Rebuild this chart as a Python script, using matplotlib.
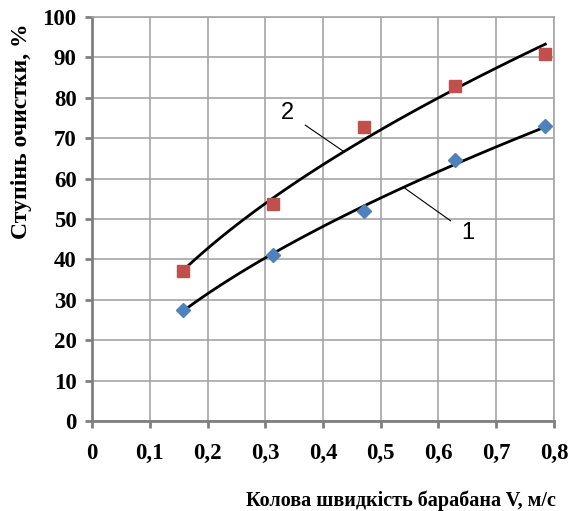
import numpy as np
import matplotlib.pyplot as plt

# швидкість барабана, м/с
v = [0.157, 0.314, 0.471, 0.628, 0.785]
# ступінь очистки, %
s1 = [27.4, 41.2, 52.0, 64.6, 73.1]
s2 = [37.2, 53.7, 72.8, 83.0, 90.8]

xticks = [0, 0.1, 0.2, 0.3, 0.4, 0.5, 0.6, 0.7, 0.8]
xlabels = ['0', '0,1', '0,2', '0,3', '0,4', '0,5', '0,6', '0,7', '0,8']
yticks = list(range(0, 101, 10))

fig = plt.figure(figsize=(5.69, 5.11), dpi=100)
ax = fig.add_axes([0.1617, 0.1761, 0.8119, 0.7906])

# степеневі лінії тренду
xs = np.linspace(v[0], v[-1], 100)
for s in (s1, s2):
    b, la = np.polyfit(np.log(v), np.log(s), 1)
    ax.plot(xs, np.exp(la) * xs ** b, color='black', lw=2, zorder=3)

ax.plot(v, s1, 'D', color='#4F81BD', ms=7, zorder=4)
ax.plot(v, s2, 's', color='#C0504D', ms=8, zorder=4)

ax.set_xlim(0, 0.8)
ax.set_ylim(0, 100)
ax.set_xticks(xticks)
ax.set_xticklabels(xlabels)
ax.set_yticks(yticks)
ax.grid(True, color='#A6A6A6', lw=1.2)
ax.set_axisbelow(True)
for side in ('top', 'right'):
    ax.spines[side].set_color('#A6A6A6')
    ax.spines[side].set_linewidth(1.2)
for side in ('left', 'bottom'):
    ax.spines[side].set_color('#808080')
    ax.spines[side].set_linewidth(2)
ax.tick_params(direction='out', length=5, width=2, color='#808080')
ax.tick_params(axis='x', pad=11)
ax.tick_params(axis='y', pad=6)
for lab in ax.get_xticklabels() + ax.get_yticklabels():
    lab.set_fontfamily('Liberation Serif')
    lab.set_fontweight('bold')
    lab.set_fontsize(16.5)

# підписи кривих
ax.annotate('2', xy=(0.435, 66.8), xytext=(0.339, 76.2), fontsize=17,
            family='Liberation Sans', ha='center', va='center',
            arrowprops=dict(arrowstyle='-', color='black', lw=0.8, shrinkA=7, shrinkB=0))
ax.annotate('1', xy=(0.541, 57.7), xytext=(0.651, 46.5), fontsize=17,
            family='Liberation Sans', ha='center', va='center',
            arrowprops=dict(arrowstyle='-', color='black', lw=0.8, shrinkA=7, shrinkB=0))

fig.text(0.705, 0.02, 'Колова швидкість барабана V, м/с', ha='center', va='center',
         family='Liberation Serif', weight='bold', fontsize=14.5)
fig.text(0.037, 0.744, 'Ступінь очистки, %', ha='center', va='center', rotation=90,
         family='Liberation Serif', weight='bold', fontsize=17)

fig.savefig('out.png', dpi=100)
